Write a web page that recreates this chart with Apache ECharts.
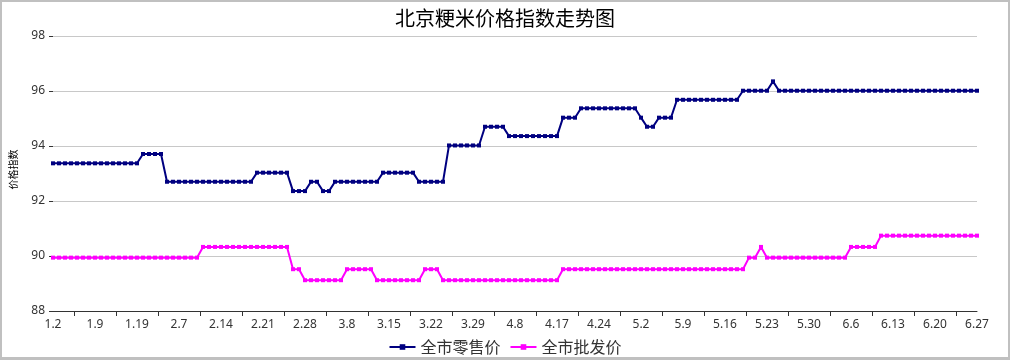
<!DOCTYPE html>
<html>
<head>
<meta charset="utf-8">
<script src="https://cdn.jsdelivr.net/npm/echarts@6/dist/echarts.min.js"></script>
<style>
html,body{margin:0;padding:0;background:#fff;}
#wrap{position:relative;width:1010px;height:360px;}
#chart{position:absolute;left:0;top:0;width:1010px;height:360px;}
#frame{position:absolute;left:0;top:0;width:1010px;height:360px;box-sizing:border-box;border:2px solid #c0c0c0;border-bottom-width:3px;pointer-events:none;}
</style>
</head>
<body>
<div id="wrap"><div id="chart"></div><div id="frame"></div></div>
<script>
const titleText = '北京粳米价格指数走势图';
const yAxisName = '价格指数';
const seriesNames = ['全市零售价', '全市批发价'];

const categories = [
  '1.2','1.3','1.4','1.5','1.6','1.7','1.8',
  '1.9','1.10','1.11','1.12','1.13','1.16','1.17',
  '1.19','1.20','1.21','1.22','1.23','2.3','2.6',
  '2.7','2.8','2.9','2.10','2.11','2.12','2.13',
  '2.14','2.15','2.16','2.17','2.18','2.19','2.20',
  '2.21','2.22','2.23','2.24','2.25','2.26','2.27',
  '2.28','3.1','3.2','3.3','3.4','3.6','3.7',
  '3.8','3.9','3.10','3.11','3.12','3.13','3.14',
  '3.15','3.16','3.17','3.18','3.19','3.20','3.21',
  '3.22','3.23','3.24','3.25','3.26','3.27','3.28',
  '3.29','3.30','3.31','4.1','4.2','4.6','4.7',
  '4.8','4.9','4.10','4.11','4.12','4.15','4.16',
  '4.17','4.18','4.19','4.20','4.21','4.22','4.23',
  '4.24','4.25','4.26','4.27','4.28','4.29','4.30',
  '5.2','5.3','5.4','5.5','5.6','5.7','5.8',
  '5.9','5.10','5.11','5.12','5.13','5.14','5.15',
  '5.16','5.17','5.18','5.19','5.20','5.21','5.22',
  '5.23','5.24','5.25','5.26','5.27','5.28','5.29',
  '5.30','5.31','6.1','6.2','6.3','6.4','6.5',
  '6.6','6.7','6.8','6.9','6.10','6.11','6.12',
  '6.13','6.14','6.15','6.16','6.17','6.18','6.19',
  '6.20','6.21','6.22','6.23','6.24','6.25','6.26',
  '6.27'
];

const retail = [
  93.37,93.37,93.37,93.37,93.37,93.37,93.37,
  93.37,93.37,93.37,93.37,93.37,93.37,93.37,
  93.37,93.71,93.71,93.71,93.71,92.70,92.70,
  92.70,92.70,92.70,92.70,92.70,92.70,92.70,
  92.70,92.70,92.70,92.70,92.70,92.70,93.03,
  93.03,93.03,93.03,93.03,93.03,92.36,92.36,
  92.36,92.70,92.70,92.36,92.36,92.70,92.70,
  92.70,92.70,92.70,92.70,92.70,92.70,93.03,
  93.03,93.03,93.03,93.03,93.03,92.70,92.70,
  92.70,92.70,92.70,94.02,94.02,94.02,94.02,
  94.02,94.02,94.70,94.70,94.70,94.70,94.36,
  94.36,94.36,94.36,94.36,94.36,94.36,94.36,
  94.36,95.03,95.03,95.03,95.37,95.37,95.37,
  95.37,95.37,95.37,95.37,95.37,95.37,95.37,
  95.03,94.70,94.70,95.03,95.03,95.03,95.68,
  95.68,95.68,95.68,95.68,95.68,95.68,95.68,
  95.68,95.68,95.68,96.01,96.01,96.01,96.01,
  96.01,96.35,96.01,96.01,96.01,96.01,96.01,
  96.01,96.01,96.01,96.01,96.01,96.01,96.01,
  96.01,96.01,96.01,96.01,96.01,96.01,96.01,
  96.01,96.01,96.01,96.01,96.01,96.01,96.01,
  96.01,96.01,96.01,96.01,96.01,96.01,96.01,
  96.01
];

const wholesale = [
  89.94,89.94,89.94,89.94,89.94,89.94,89.94,
  89.94,89.94,89.94,89.94,89.94,89.94,89.94,
  89.94,89.94,89.94,89.94,89.94,89.94,89.94,
  89.94,89.94,89.94,89.94,90.33,90.33,90.33,
  90.33,90.33,90.33,90.33,90.33,90.33,90.33,
  90.33,90.33,90.33,90.33,90.33,89.52,89.52,
  89.12,89.12,89.12,89.12,89.12,89.12,89.12,
  89.52,89.52,89.52,89.52,89.52,89.12,89.12,
  89.12,89.12,89.12,89.12,89.12,89.12,89.52,
  89.52,89.52,89.12,89.12,89.12,89.12,89.12,
  89.12,89.12,89.12,89.12,89.12,89.12,89.12,
  89.12,89.12,89.12,89.12,89.12,89.12,89.12,
  89.12,89.52,89.52,89.52,89.52,89.52,89.52,
  89.52,89.52,89.52,89.52,89.52,89.52,89.52,
  89.52,89.52,89.52,89.52,89.52,89.52,89.52,
  89.52,89.52,89.52,89.52,89.52,89.52,89.52,
  89.52,89.52,89.52,89.52,89.94,89.94,90.33,
  89.94,89.94,89.94,89.94,89.94,89.94,89.94,
  89.94,89.94,89.94,89.94,89.94,89.94,89.94,
  90.33,90.33,90.33,90.33,90.33,90.74,90.74,
  90.74,90.74,90.74,90.74,90.74,90.74,90.74,
  90.74,90.74,90.74,90.74,90.74,90.74,90.74,
  90.74
];

const yMin = 88, yMax = 98, yStep = 2;

const chart = echarts.init(document.getElementById('chart'), null, {renderer: 'canvas'});
const fontFam = '"Noto Sans", "Noto Sans CJK SC", sans-serif';
const n = categories.length;
const tickPos = [];
for (let k = 3.5; k < n - 1; k += 7) tickPos.push(k);

chart.setOption({
  animation: false,
  backgroundColor: '#ffffff',
  textStyle: {fontFamily: fontFam},
  title: {
    text: titleText,
    left: 'center',
    top: 3,
    textStyle: {fontFamily: '"Noto Sans CJK SC", sans-serif', fontSize: 20, fontWeight: 'normal', color: '#000'}
  },
  legend: {
    bottom: 0,
    left: 'center',
    itemWidth: 26,
    itemHeight: 7,
    itemGap: 9,
    textStyle: {fontFamily: '"Noto Sans CJK SC", sans-serif', fontSize: 16, color: '#333'},
    data: seriesNames
  },
  grid: {left: 53, top: 36, width: 924, height: 275, containLabel: false, outerBoundsMode: 'none'},
  xAxis: [{
    type: 'category',
    data: categories,
    boundaryGap: false,
    axisLine: {show: true, lineStyle: {color: '#333', width: 1}},
    axisTick: {show: false},
    axisLabel: {interval: 6, color: '#333', fontSize: 12, margin: 8, fontFamily: fontFam},
    splitLine: {show: false}
  }, {
    type: 'value',
    min: 0,
    max: n - 1,
    position: 'bottom',
    axisLine: {show: false},
    axisLabel: {show: false},
    splitLine: {show: false},
    axisTick: {show: true, customValues: tickPos, length: 5, inside: false, lineStyle: {color: '#333', width: 1}}
  }],
  yAxis: {
    type: 'value',
    min: yMin,
    max: yMax,
    interval: yStep,
    name: yAxisName,
    nameLocation: 'middle',
    nameRotate: 90,
    nameGap: 35,
    nameTextStyle: {fontFamily: '"Noto Sans CJK SC", sans-serif', fontSize: 10, color: '#000', padding: [0, 0, 0, 8]},
    axisLine: {show: false},
    axisTick: {show: true, length: 4, lineStyle: {color: '#333'}},
    axisLabel: {color: '#333', fontSize: 12, margin: 8, fontFamily: fontFam},
    splitLine: {show: true, lineStyle: {color: '#c8c8c8', width: 1}}
  },
  series: [{
    name: seriesNames[0],
    type: 'line',
    data: retail,
    xAxisIndex: 0,
    symbol: 'rect',
    symbolSize: 4,
    showAllSymbol: true,
    color: '#000080',
    lineStyle: {color: '#000080', width: 2},
    itemStyle: {color: '#000080'}
  }, {
    name: seriesNames[1],
    type: 'line',
    data: wholesale,
    xAxisIndex: 0,
    symbol: 'rect',
    symbolSize: 4,
    showAllSymbol: true,
    color: '#ff00ff',
    lineStyle: {color: '#ff00ff', width: 2},
    itemStyle: {color: '#ff00ff'}
  }]
});
</script>
</body>
</html>
